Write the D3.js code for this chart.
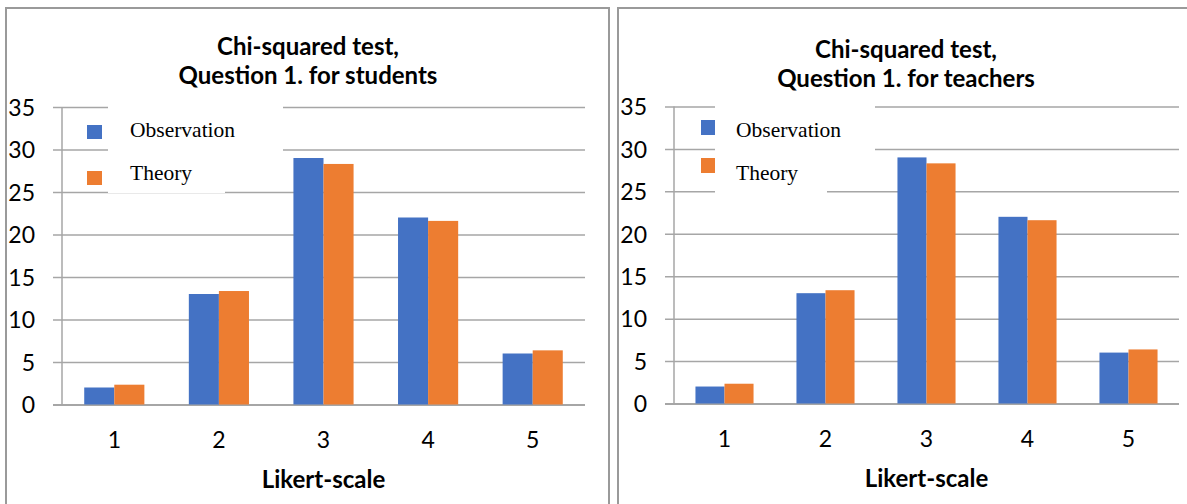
<!DOCTYPE html>
<html>
<head>
<meta charset="utf-8">
<script src="https://cdn.jsdelivr.net/npm/d3@7"></script>
<style>
  html, body { margin: 0; padding: 0; background: #fff; }
  svg { display: block; }
</style>
</head>
<body>
<div id="app"></div>
<script>
(() => {
    // data
    const categories = ['1', '2', '3', '4', '5'];
    const observation = [2, 13, 29, 22, 6];
    const theory = [2.33, 13.35, 28.3, 21.6, 6.37];
    const seriesNames = ['Observation', 'Theory'];
    const yTicks = [0, 5, 10, 15, 20, 25, 30, 35];
    const titlesStudents = ['Chi-squared test,', 'Question 1. for students'];
    const titlesTeachers = ['Chi-squared test,', 'Question 1. for teachers'];
    const xTitle = 'Likert-scale';

    const colors = ['#4472C4', '#ED7D31'];
    const gridColor = '#a6a6a6';
    const sansFont = 'Lato, "Open Sans", sans-serif';
    const serifFont = '"Liberation Serif", "DejaVu Serif", serif';

    const width = 1187;
    const height = 504;

    // layout of each of the two panels
    const panels = [
        {
            titles: titlesStudents,
            frame: { left: 6, top: 8, right: 609 },
            titleX: 308, titleY: [55, 84],
            plot: { left: 62, right: 585, top: 107, bottom: 404.5 },
            legend: { box: [108, 104, 175, 85], strip: 117, sqX: 87, sqY: [125, 171], sqW: 15, sqH: 14, textX: 130, textY: [137, 180] },
        },
        {
            titles: titlesTeachers,
            frame: { left: 618, top: 8, right: null },
            titleX: 906, titleY: [58, 87],
            plot: { left: 674, right: 1179, top: 106.5, bottom: 403.5 },
            legend: { box: [715, 104, 160, 85], strip: 112, sqX: 701, sqY: [120, 158], sqW: 14, sqH: 15, textX: 736, textY: [137, 180] },
        },
    ];

    const svg = d3.select('#app').append('svg')
        .attr('width', width)
        .attr('height', height);

    const drawPanel = panel => {
        const g = svg.append('g');
        const { plot, frame, legend } = panel;

        // panel frame (left, top, right edges only, the bottom runs off the picture)
        const framePath = d3.path();
        framePath.moveTo(frame.left, height);
        framePath.lineTo(frame.left, frame.top);
        if (frame.right !== null) {
            framePath.lineTo(frame.right, frame.top);
            framePath.lineTo(frame.right, height);
        } else {
            framePath.lineTo(width, frame.top);
        }
        g.append('path')
            .attr('d', framePath.toString())
            .attr('fill', 'none')
            .attr('stroke', '#9a9a9a')
            .attr('stroke-width', 2);

        // title
        g.append('text')
            .attr('text-anchor', 'middle')
            .style('font', `bold 24px ${sansFont}`)
            .attr('fill', '#000')
            .selectAll('tspan')
            .data(panel.titles)
            .enter().append('tspan')
            .attr('x', panel.titleX)
            .attr('y', (d, i) => panel.titleY[i])
            .text(d => d);

        const y = d3.scaleLinear()
            .domain([0, 35])
            .range([plot.bottom, plot.top]);

        const x0 = d3.scaleBand()
            .domain(categories)
            .range([plot.left, plot.right])
            .paddingInner(0.425)
            .paddingOuter(0.2125);

        const x1 = d3.scaleBand()
            .domain(seriesNames)
            .range([0, x0.bandwidth()]);

        // gridlines + y tick labels
        const gridStart = plot.left - 9;
        const yAxis = g.append('g')
            .attr('transform', `translate(${gridStart},0)`)
            .call(d3.axisLeft(y)
                .tickValues(yTicks)
                .tickSize(-(plot.right - gridStart))
                .tickPadding(18)
                .tickFormat(d3.format('d')));
        yAxis.select('.domain').remove();
        yAxis.selectAll('line')
            .attr('stroke', gridColor)
            .attr('stroke-width', d => d === 0 ? 2 : 1.5);
        yAxis.selectAll('text')
            .attr('fill', '#000')
            .attr('dy', '0.36em')
            .style('font', `23px ${sansFont}`);

        // vertical axis line
        g.append('line')
            .attr('x1', plot.left).attr('x2', plot.left)
            .attr('y1', y(35)).attr('y2', y(0))
            .attr('stroke', gridColor)
            .attr('stroke-width', 1.5);

        // legend box hides the gridlines behind it
        g.append('rect')
            .attr('x', legend.box[0]).attr('y', legend.box[1])
            .attr('width', legend.box[2]).attr('height', legend.box[3])
            .attr('fill', '#fff');
        g.append('rect')
            .attr('x', legend.box[0]).attr('y', legend.box[1] + legend.box[3] - 1)
            .attr('width', legend.strip).attr('height', 5)
            .attr('fill', '#fff');

        const legendItems = g.append('g')
            .selectAll('g')
            .data(seriesNames)
            .enter().append('g');
        legendItems.append('rect')
            .attr('x', legend.sqX)
            .attr('y', (d, i) => legend.sqY[i])
            .attr('width', legend.sqW)
            .attr('height', legend.sqH)
            .attr('fill', (d, i) => colors[i]);
        legendItems.append('text')
            .attr('x', legend.textX)
            .attr('y', (d, i) => legend.textY[i])
            .style('font', `21.5px ${serifFont}`)
            .attr('fill', '#000')
            .text(d => d);

        // bars
        const rows = categories.map((c, i) => ({ cat: c, values: [observation[i], theory[i]] }));
        g.append('g')
            .selectAll('g')
            .data(rows)
            .enter().append('g')
            .attr('transform', d => `translate(${x0(d.cat)},0)`)
            .selectAll('rect')
            .data(d => d.values.map((v, i) => ({ key: seriesNames[i], value: v, i })))
            .enter().append('rect')
            .attr('x', d => x1(d.key))
            .attr('y', d => y(d.value))
            .attr('width', x1.bandwidth())
            .attr('height', d => y(0) - y(d.value))
            .attr('fill', d => colors[d.i]);

        // x tick labels
        g.append('g')
            .selectAll('text')
            .data(categories)
            .enter().append('text')
            .attr('x', d => x0(d) + x0.bandwidth() / 2)
            .attr('y', plot.bottom + 43)
            .attr('text-anchor', 'middle')
            .style('font', `23px ${sansFont}`)
            .attr('fill', '#000')
            .text(d => d);

        // x axis title
        g.append('text')
            .attr('x', (plot.left + plot.right) / 2)
            .attr('y', plot.bottom + 83)
            .attr('text-anchor', 'middle')
            .style('font', `bold 24px ${sansFont}`)
            .attr('fill', '#000')
            .text(xTitle);
    };

    panels.forEach(drawPanel);
})();
</script>
</body>
</html>
